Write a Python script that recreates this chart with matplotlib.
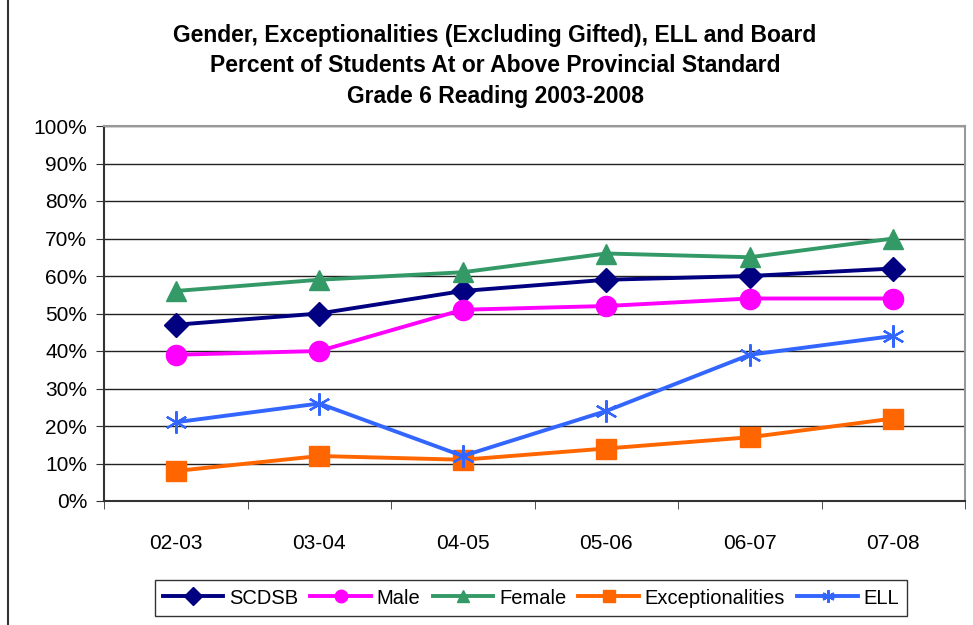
import matplotlib.pyplot as plt
import matplotlib.patches as patches
import numpy as np

plt.rcParams['font.family'] = ['Liberation Sans', 'DejaVu Sans']

years = ['02-03', '03-04', '04-05', '05-06', '06-07', '07-08']
scdsb = [47, 50, 56, 59, 60, 62]
male = [39, 40, 51, 52, 54, 54]
female = [56, 59, 61, 66, 65, 70]
exceptionalities = [8, 12, 11, 14, 17, 22]
ell = [21, 26, 12, 24, 39, 44]

fig = plt.figure(figsize=(9.73, 6.25), dpi=100)
ax = fig.add_axes([104 / 973, 1 - 501 / 625, 861 / 973, 375 / 625])

x = np.arange(len(years))
ax.plot(x, scdsb, color='#000080', lw=2.8, marker='D', ms=12, label='SCDSB')
ax.plot(x, male, color='#FF00FF', lw=2.8, marker='o', ms=14.5, label='Male')
ax.plot(x, female, color='#339966', lw=2.8, marker='^', ms=15, label='Female')
ax.plot(x, exceptionalities, color='#FF6600', lw=2.8, marker='s', ms=14,
        label='Exceptionalities')
ax.plot(x, ell, color='#3366FF', lw=2.8, marker=(6, 2, 0), ms=16, mew=1.6,
        label='ELL')

ax.set_xlim(-0.5, 5.5)
ax.set_ylim(0, 100)
ax.set_yticks(range(0, 101, 10))
ax.set_yticklabels([f'{v}%' for v in range(0, 101, 10)], fontsize=15)
ax.set_xticks(x)
ax.set_xticklabels(years, fontsize=15)
ax.set_xticks(np.arange(-0.5, 6, 1), minor=True)
ax.tick_params(axis='x', which='major', length=0, pad=24)
ax.tick_params(axis='x', which='minor', length=6, color='#333333')
ax.tick_params(axis='y', length=6, color='#333333', pad=6)
ax.grid(axis='y', color='#222222', lw=1)
ax.set_axisbelow(True)
for s in ['top', 'right']:
    ax.spines[s].set_color('#999999')
    ax.spines[s].set_linewidth(1.5)
for s in ['left', 'bottom']:
    ax.spines[s].set_color('#333333')
    ax.spines[s].set_linewidth(1.5)

fig.text(495 / 973, 1 - 66 / 625,
         'Gender, Exceptionalities (Excluding Gifted), ELL and Board\n'
         'Percent of Students At or Above Provincial Standard\n'
         'Grade 6 Reading 2003-2008',
         ha='center', va='center', fontsize=16.5, fontweight='bold',
         linespacing=1.4)

leg = fig.legend(loc='center', bbox_to_anchor=(531 / 973, 1 - 598 / 625),
                 ncol=5, fontsize=14.5, frameon=True, fancybox=False,
                 edgecolor='black', handlelength=3.0, columnspacing=0.6,
                 handletextpad=0.3, borderpad=0.4)
leg.get_frame().set_linewidth(1)
for h in leg.legend_handles:
    h.set_markersize(9)

# outer chart border
fig.patches.append(patches.Rectangle((8 / 973, -0.01), 1.0, 1.02,
                                     transform=fig.transFigure, fill=False,
                                     edgecolor='#333333', lw=1.5))

fig.savefig('out.png', dpi=100)
